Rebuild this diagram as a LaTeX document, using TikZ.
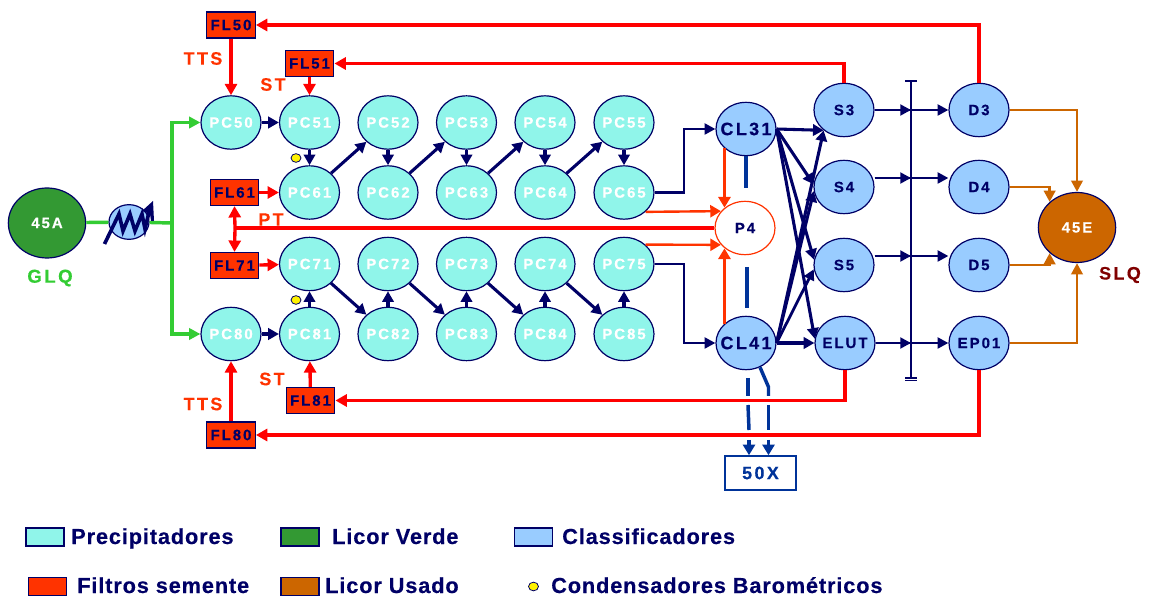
\documentclass[tikz,border=0pt]{standalone}
\usepackage{fontspec}
\setmainfont{Liberation Sans}
\newfontfamily\lsf[LetterSpace=13,BoldFeatures={FakeBold=0.3}]{Liberation Sans}
\newfontfamily\lgf[LetterSpace=4,BoldFeatures={FakeBold=0.4}]{Liberation Sans}
\usetikzlibrary{shapes.geometric,arrows.meta}
\newcommand{\lb}[1]{\makebox[0pt][c]{#1}}
\definecolor{cPC}{HTML}{90F5EA}
\definecolor{cNavy}{HTML}{000066}
\definecolor{cCL}{HTML}{99CCFF}
\definecolor{cGreen}{HTML}{339933}
\definecolor{cLime}{HTML}{33CC33}
\definecolor{cUsed}{HTML}{CC6600}
\definecolor{cRed}{HTML}{FF0000}
\definecolor{cFilter}{HTML}{FF3300}
\definecolor{cBlue}{HTML}{003399}
\definecolor{cSLQ}{HTML}{800000}
\tikzset{
  vessel/.style={ellipse,draw=cNavy,line width=0.9pt,minimum width=45pt,minimum height=40pt,inner sep=0pt,font=\lsf\bfseries\fontsize{11.25}{12}\selectfont},
  pc/.style={vessel,fill=cPC,text=white},
  cls/.style={vessel,fill=cCL,text=cNavy},
  big/.style={vessel,minimum width=58pt,minimum height=52pt,text=white},
  filt/.style={rectangle,draw=cNavy,fill=cFilter,line width=0.9pt,text=cNavy,minimum width=36.5pt,minimum height=19.5pt,inner sep=0pt,font=\lsf\bfseries\fontsize{11.25}{12}\selectfont},
  tag/.style={font=\lsf\bfseries\fontsize{13.5}{14}\selectfont},
  legtxt/.style={anchor=base west,text=cNavy,inner sep=0pt,font=\lgf\bfseries\fontsize{16.3}{17}\selectfont},
  swatch/.style={rectangle,draw=cNavy,line width=0.9pt,minimum width=28.5pt,minimum height=13.5pt,inner sep=0pt},
  dot/.style={ellipse,draw=cNavy,fill=yellow,line width=0.6pt,minimum width=7.5pt,minimum height=6.5pt,inner sep=0pt},
  navyar/.style={draw=cNavy,line width=2.3pt,-{Triangle[length=8pt,width=8.5pt]}},
  navyth/.style={draw=cNavy,line width=2.1pt,-{Triangle[length=8pt,width=8pt]}},
  redar/.style={draw=cRed,line width=2.5pt,-{Triangle[length=8.5pt,width=9pt]}},
  redln/.style={draw=cRed,line width=2.5pt},
  orar/.style={draw=cFilter,line width=1.8pt,-{Triangle[length=8pt,width=9pt]}},
  orthick/.style={orar,line width=2.3pt},
  usedar/.style={draw=cUsed,line width=2.2pt,-{Triangle[length=8.5pt,width=8.5pt]}},
  greenln/.style={draw=cLime,line width=2.6pt},
  greenar/.style={greenln,-{Triangle[length=8.5pt,width=8.5pt]}},
  bluel/.style={draw=cBlue,line width=2.6pt},
  bluear/.style={bluel,-{Triangle[length=8pt,width=9pt]}}
}
\begin{document}
\begin{tikzpicture}[x=0.75pt,y=-0.75pt]
\useasboundingbox (0,0) rectangle (1150,598);
% precipitators
\node[pc] (PC50) at (231,122.5) {\lb{PC50}};
\node[pc] (PC51) at (309.5,122.5) {\lb{PC51}};
\node[pc] (PC52) at (388,122.5) {\lb{PC52}};
\node[pc] (PC53) at (466.5,122.5) {\lb{PC53}};
\node[pc] (PC54) at (545,122.5) {\lb{PC54}};
\node[pc] (PC55) at (624,122.5) {\lb{PC55}};
\node[pc] (PC61) at (309.5,192.5) {\lb{PC61}};
\node[pc] (PC62) at (388,192.5) {\lb{PC62}};
\node[pc] (PC63) at (466.5,192.5) {\lb{PC63}};
\node[pc] (PC64) at (545,192.5) {\lb{PC64}};
\node[pc] (PC65) at (624,192.5) {\lb{PC65}};
\node[pc] (PC71) at (309.5,264) {\lb{PC71}};
\node[pc] (PC72) at (388,264) {\lb{PC72}};
\node[pc] (PC73) at (466.5,264) {\lb{PC73}};
\node[pc] (PC74) at (545,264) {\lb{PC74}};
\node[pc] (PC75) at (624,264) {\lb{PC75}};
\node[pc] (PC80) at (231,334) {\lb{PC80}};
\node[pc] (PC81) at (309.5,334) {\lb{PC81}};
\node[pc] (PC82) at (388,334) {\lb{PC82}};
\node[pc] (PC83) at (466.5,334) {\lb{PC83}};
\node[pc] (PC84) at (545,334) {\lb{PC84}};
\node[pc] (PC85) at (624,334) {\lb{PC85}};
% filters
\node[filt] (FL50) at (231,25) {FL50};
\node[filt] (FL51) at (309.5,63.5) {FL51};
\node[filt] (FL61) at (234.5,192.5) {FL61};
\node[filt] (FL71) at (234.5,265.5) {FL71};
\node[filt] (FL81) at (310.5,400.5) {FL81};
\node[filt] (FL80) at (231,435) {FL80};
% classifiers
\node[cls,font=\lsf\bfseries\fontsize{13.5}{14}\selectfont] (CL31) at (746,129) {\lb{CL31}};
\node[cls,font=\lsf\bfseries\fontsize{13.5}{14}\selectfont] (CL41) at (746,343) {\lb{CL41}};
\node[vessel,fill=white,draw=cFilter,text=cNavy] (P4) at (745,228) {\lb{P4}};
\node[cls] (S3) at (844,110) {\lb{S3}};
\node[cls] (S4) at (844,187) {\lb{S4}};
\node[cls] (S5) at (844,265) {\lb{S5}};
\node[cls] (ELUT) at (845,343) {\lb{ELUT}};
\node[cls] (D3) at (979,110) {\lb{D3}};
\node[cls] (D4) at (979,187) {\lb{D4}};
\node[cls] (D5) at (979,265) {\lb{D5}};
\node[cls] (EP01) at (979,343) {\lb{EP01}};
\node[big,fill=cGreen,minimum height=52.5pt] (45A) at (47,223) {\lb{45A}};
\node[big,fill=cUsed,minimum height=52.5pt] (45E) at (1077,227.5) {\lb{45E}};
\node[rectangle,draw=cBlue,line width=1.1pt,minimum width=53pt,minimum height=25.5pt,inner sep=0pt,text=cBlue,font=\lsf\bfseries\fontsize{13.5}{14}\selectfont] (50X) at (760.5,473) {50X};
\node[ellipse,draw=cNavy,fill=cCL,line width=0.9pt,minimum width=30pt,minimum height=26pt,inner sep=0pt] (HX) at (129,222) {};
% green feed
\coordinate (gj) at (172,223);
\draw[greenln] (45A) -- (HX);
\draw[greenln] (HX) -- (gj);
\draw[greenar] (gj) |- (PC50.west);
\draw[greenar] (gj) |- (PC80.west);
% heat exchanger symbol
\draw[cNavy,line width=2.7pt,line join=miter] (104.5,244) -- (119,214) -- (123,231) -- (130,214) -- (135,231) -- (142,214) -- (145,229) -- (150,208);
\fill[cNavy] (153,201) -- (154,221) -- (151,221) -- (150,214) -- (142,211) -- cycle;
% bar
\coordinate (bartop) at (911,81);
\coordinate (barbot) at (911,378);
\draw[cNavy,line width=1.5pt] (bartop) -- (barbot);
\draw[cNavy,line width=1.2pt] (905,81) -- (917,81);
\draw[cNavy,line width=1pt] (905,378) -- (917,378) (905,380.5) -- (917,380.5);
% PC chain
\foreach \a/\b in {PC50/PC51,PC51/PC61,PC52/PC62,PC53/PC63,PC54/PC64,PC55/PC65,
  PC61/PC52,PC62/PC53,PC63/PC54,PC64/PC55,
  PC80/PC81,PC81/PC71,PC82/PC72,PC83/PC73,PC84/PC74,PC85/PC75,
  PC71/PC82,PC72/PC83,PC73/PC84,PC74/PC85}
  \draw[navyar] (\a) -- (\b);
% to classifiers
\coordinate (up1) at (684,192.5);
\coordinate (up2) at (684,264);
\draw[navyth] (PC65.east) -- (up1) |- (CL31.west);
\draw[navyth] (PC75.east) -- (up2) |- (CL41.west);
% fan
\draw[navyar] (CL31.east) -- (S3.225);
\draw[navyar] (CL31.east) -- (S4.175);
\draw[navyar] (CL31.east) -- (S5.170);
\draw[navyar] (CL31.east) -- (ELUT.172);
\draw[navyar] (CL41.east) -- (S3.225);
\draw[navyar] (CL41.east) -- (S4.188);
\draw[navyth] (CL41.east) -- (S5.188);
\draw[navyar] (CL41.east) -- (ELUT.west);
% classifier to dilution
\foreach \s/\d/\y in {S3/D3/110,S4/D4/178,S5/D5/256,ELUT/EP01/343}{
  \coordinate (ct) at (911,\y);
  \draw[navyth] (\s.east |- ct) -- (ct);
  \draw[navyth] (\s.east |- ct) -- (\d.west |- ct);
}
% used liquor
\draw[usedar] (D3.east) -| (45E.north);
\draw[usedar] (D4.east) -| (45E.137);
\draw[usedar] (D5.east) -| (45E.223);
\draw[usedar] (EP01.east) -| (45E.south);
% red recycle
\draw[redar] (D3.north) |- (FL50.east);
\draw[redar] (S3.north) |- (FL51.east);
\draw[redar] (ELUT.south) |- (FL81.east);
\draw[redar] (EP01.south) |- (FL80.east);
\draw[redar] (FL50) -- (PC50);
\draw[redar] (FL51) -- (PC51);
\draw[redar] (FL61) -- (PC61);
\draw[redar] (FL71) -- (PC71);
\draw[redar] (FL81) -- (PC81);
\draw[redar] (FL80) -- (PC80);
\coordinate (pt) at (235,228);
\draw[redln] (P4.west) -- (pt);
\draw[redar] (pt) -- (FL61.south);
\draw[redar] (pt) -- (FL71.north);
% orange to P4
\draw[orar] (PC65.-42) -- (P4.145);
\draw[orar] (PC75.42) -- (P4.215);
\draw[orthick] (CL31.222) -- (CL31.222 |- P4.135);
\draw[orthick] (CL41.138) -- (CL41.138 |- P4.225);
% blue bleed lines
\coordinate (bl1) at (746,188);
\coordinate (bl2) at (747,267);
\coordinate (bl3) at (747,308);
\draw[bluel] (CL31.south) -- (bl1);
\draw[bluel] (bl2) -- (bl3);
\coordinate (b1a) at (748,378);
\coordinate (b1b) at (748,396);
\coordinate (b1c) at (748,405);
\coordinate (b1d) at (749,430);
\coordinate (b1e) at (749,440);
\coordinate (b2a) at (768.5,387);
\coordinate (b2b) at (768.5,396);
\coordinate (b2c) at (768.5,405);
\coordinate (b2d) at (768.5,430);
\coordinate (b2e) at (768.5,440);
\draw[bluel] (b1a) -- (b1b);
\draw[bluel] (b1c) -- (b1d);
\draw[bluear] (b1e) -- (b1e |- 50X.north);
\draw[bluel] (CL41.-60) -- (b2a) -- (b2b);
\draw[bluel] (b2c) -- (b2d);
\draw[bluear] (b2e) -- (b2e |- 50X.north);
% condensers
\node[dot] (cb1) at (296,158) {};
\node[dot] (cb2) at (296,300) {};
% labels
\node[tag,text=cFilter] (tts1) at (203,58.5) {TTS};
\node[tag,text=cFilter] (st1) at (273,84.5) {ST};
\node[tag,text=cFilter] (pt1) at (271,219.5) {PT};
\node[tag,text=cLime,font=\lsf\bfseries\fontsize{14}{15}\selectfont] (glq) at (50,278) {GLQ};
\node[tag,text=cSLQ] (slq) at (1120,275) {SLQ};
\node[tag,text=cFilter] (st2) at (272,379) {ST};
\node[tag,text=cFilter] (tts2) at (203,404) {TTS};
% legend
\node[swatch,fill=cPC] (l1) at (45,537) {};
\node[legtxt] (t1) at (71,544) {Precipitadores};
\node[swatch,fill=cGreen] (l2) at (300,537) {};
\node[legtxt] (t2) at (332,544) {Licor Verde};
\node[swatch,fill=cCL] (l3) at (533.5,537) {};
\node[legtxt] (t3) at (562,544) {Classificadores};
\node[swatch,fill=cFilter] (l4) at (47.5,586.5) {};
\node[legtxt] (t4) at (77,593) {Filtros semente};
\node[swatch,fill=cUsed] (l5) at (300,586.5) {};
\node[legtxt] (t5) at (325,593) {Licor Usado};
\node[dot] (l6) at (533.5,586.5) {};
\node[legtxt] (t6) at (551,593) {Condensadores Barométricos};
\end{tikzpicture}
\end{document}
